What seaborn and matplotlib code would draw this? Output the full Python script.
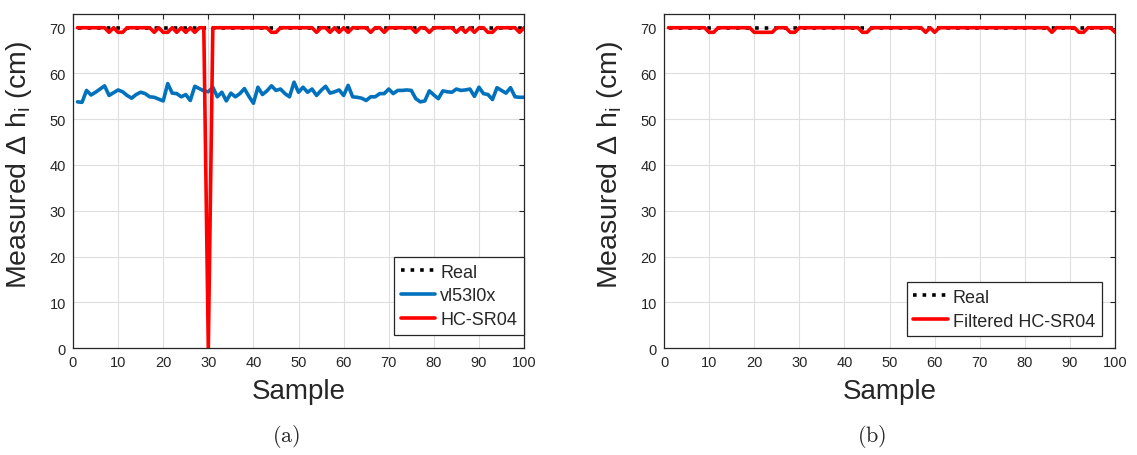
import matplotlib
matplotlib.use("Agg")
import matplotlib.pyplot as plt
import pandas as pd
import seaborn as sns

sns.set_style("white")
plt.rcParams['font.family'] = ['Liberation Sans', 'DejaVu Sans']
plt.rcParams['mathtext.default'] = 'regular'

# ------------------------------------------------------------
# data (100 samples)
# ------------------------------------------------------------
sample = list(range(1, 101))

real = [70] * 100

vl53l0x = [
    53.8, 53.7, 56.3, 55.3, 55.9, 56.6, 57.3, 55.2, 55.8, 56.4,   # 1-10
    56.0, 55.2, 54.6, 55.4, 55.9, 55.6, 54.9, 54.8, 54.4, 54.0,   # 11-20
    57.8, 55.7, 55.6, 54.9, 55.4, 54.1, 57.2, 56.7, 56.2, 56.0,   # 21-30
    57.0, 54.9, 55.9, 54.0, 55.7, 54.9, 55.6, 56.7, 55.0, 53.5,   # 31-40
    57.0, 55.4, 56.2, 57.3, 56.3, 56.6, 55.6, 54.9, 58.1, 55.9,   # 41-50
    57.0, 55.9, 56.6, 55.2, 56.3, 57.2, 55.7, 56.0, 56.4, 55.2,   # 51-60
    57.4, 54.9, 54.8, 54.6, 54.1, 54.9, 54.9, 55.6, 55.6, 56.6,   # 61-70
    55.6, 56.3, 56.3, 56.4, 56.3, 54.5, 53.8, 54.0, 56.2, 55.3,   # 71-80
    54.5, 56.2, 56.0, 55.9, 56.6, 56.3, 56.4, 56.6, 55.0, 57.0,   # 81-90
    55.6, 55.4, 54.3, 56.9, 56.3, 55.7, 56.9, 54.9, 54.8, 54.8,   # 91-100
]

hc_sr04 = [
    70, 70, 70, 70, 70, 70, 70, 69, 70, 69,   # 1-10
    69, 70, 70, 70, 70, 70, 70, 69, 70, 69,   # 11-20
    69, 70, 69, 70, 69, 70, 69, 70, 70, 0,    # 21-30
    70, 70, 70, 70, 70, 70, 70, 70, 70, 70,   # 31-40
    70, 70, 70, 69, 69, 70, 70, 70, 70, 70,   # 41-50
    70, 70, 70, 69, 70, 70, 69, 70, 69, 70,   # 51-60
    69, 70, 70, 70, 70, 69, 70, 70, 69, 70,   # 61-70
    70, 70, 70, 70, 70, 69, 70, 70, 69, 70,   # 71-80
    70, 70, 70, 70, 69, 70, 69, 70, 69, 70,   # 81-90
    70, 69, 69, 70, 70, 70, 70, 70, 69, 70,   # 91-100
]

filtered_hc_sr04 = [
    70, 70, 70, 70, 70, 70, 70, 70, 70, 69,   # 1-10
    69, 70, 70, 70, 70, 70, 70, 70, 70, 69,   # 11-20
    69, 69, 69, 69, 70, 70, 70, 69, 69, 70,   # 21-30
    70, 70, 70, 70, 70, 70, 70, 70, 70, 70,   # 31-40
    70, 70, 70, 69, 69, 70, 70, 70, 70, 70,   # 41-50
    70, 70, 70, 70, 70, 70, 70, 69, 70, 69,   # 51-60
    70, 70, 70, 70, 70, 70, 70, 70, 70, 70,   # 61-70
    70, 70, 70, 70, 70, 70, 70, 70, 70, 70,   # 71-80
    70, 70, 70, 70, 70, 69, 70, 70, 70, 70,   # 81-90
    70, 69, 69, 70, 70, 70, 70, 70, 70, 69,   # 91-100
]

x_ticks = list(range(0, 101, 10))
y_ticks = list(range(0, 71, 10))

df = pd.DataFrame({'Sample': sample, 'Real': real, 'vl53l0x': vl53l0x,
                   'HC-SR04': hc_sr04, 'Filtered HC-SR04': filtered_hc_sr04})

# ------------------------------------------------------------
# figure
# ------------------------------------------------------------
fig = plt.figure(figsize=(11.37, 4.56), dpi=100)
ax_a = fig.add_axes([0.0642, 0.2346, 0.3967, 0.7325])
ax_b = fig.add_axes([0.5840, 0.2346, 0.3967, 0.7325])

dark = '#262626'
lw = 2.6

sns.lineplot(data=df, x='Sample', y='Real', ax=ax_a, color='black', linestyle=':', linewidth=lw, label='Real')
sns.lineplot(data=df, x='Sample', y='vl53l0x', ax=ax_a, color='#0072BD', linewidth=lw, label='vl53l0x')
sns.lineplot(data=df, x='Sample', y='HC-SR04', ax=ax_a, color='#FF0000', linewidth=lw, label='HC-SR04')

sns.lineplot(data=df, x='Sample', y='Real', ax=ax_b, color='black', linestyle=':', linewidth=lw, label='Real')
sns.lineplot(data=df, x='Sample', y='Filtered HC-SR04', ax=ax_b, color='#FF0000', linewidth=lw,
             label='Filtered HC-SR04')

legend_anchor = {ax_a: (0.999, 0.04), ax_b: (0.970, 0.036)}

for ax in [ax_a, ax_b]:
    ax.set_xlim(0, 100)
    ax.set_ylim(0, 73)
    ax.set_xticks(x_ticks)
    ax.set_yticks(y_ticks)
    ax.grid(True, color='#dedede', linewidth=0.8)
    ax.set_axisbelow(True)
    for sp in ax.spines.values():
        sp.set_visible(True)
        sp.set_color(dark)
        sp.set_linewidth(0.9)
    ax.tick_params(direction='in', length=3.5, width=0.8, top=True, right=True,
                   labelsize=10.5, labelcolor=dark, color=dark, pad=5)
    ax.set_xlabel('Sample', fontsize=20, color=dark)
    ax.set_ylabel('Measured Δ h$_{i}$ (cm)', fontsize=20.5, color=dark)
    ax.xaxis.set_label_coords(0.5, -0.09)
    ax.yaxis.set_label_coords(-0.087, 0.55)
    ax.xaxis.label.set_va('top')
    leg = ax.legend(loc='lower right', bbox_to_anchor=legend_anchor[ax], borderaxespad=0,
                    fontsize=13, frameon=True, fancybox=False, framealpha=1,
                    edgecolor=dark, handlelength=1.9, handletextpad=0.3,
                    labelspacing=0.38, borderpad=0.35)
    leg.get_frame().set_linewidth(0.9)

fig.text(0.2515, 0.042, r'$\mathrm{(a)}$', ha='center', va='center', fontsize=16, math_fontfamily='cm')
fig.text(0.767, 0.042, r'$\mathrm{(b)}$', ha='center', va='center', fontsize=16, math_fontfamily='cm')

fig.savefig('out.png', dpi=100)
